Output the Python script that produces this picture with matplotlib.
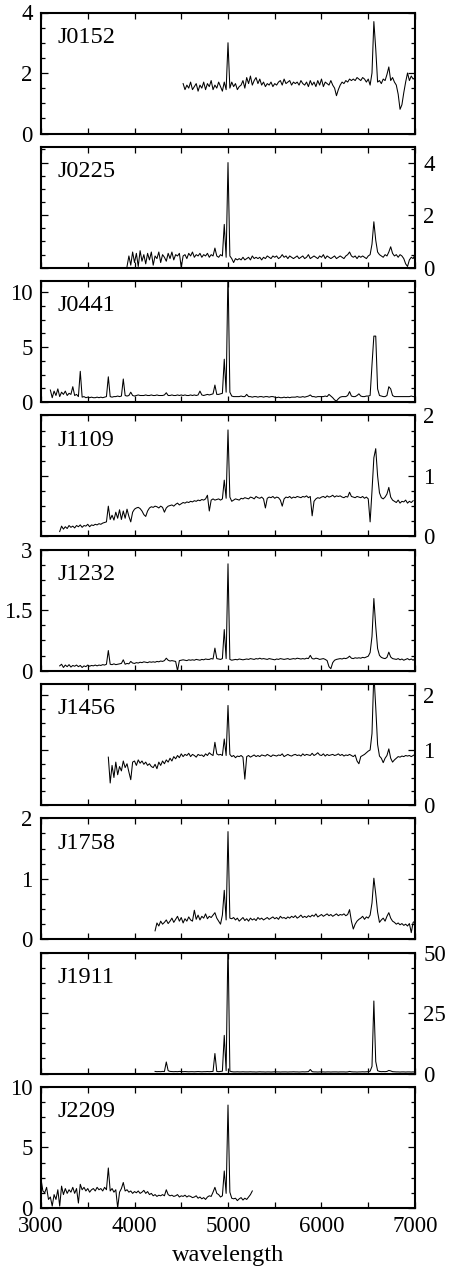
import numpy as np
import matplotlib
matplotlib.use("Agg")
import matplotlib.pyplot as plt
from matplotlib.ticker import MultipleLocator, FuncFormatter

plt.rcParams['font.family'] = ['Liberation Serif', 'DejaVu Serif']

# ---------------- data ----------------
names = ["J0152", "J0225", "J0441", "J1109", "J1232", "J1456", "J1758", "J1911", "J2209"]
start_wave = [4520, 3920, 3100, 3200, 3200, 3720, 4220, 4220, 3000]   # first sample (Angstrom)
wave_step = 20

flux_J0152 = [
    1.65, 1.45, 1.6, 1.5, 1.7, 1.45, 1.55, 1.65, 1.4, 1.6,
    1.5, 1.7, 1.45, 1.65, 1.55, 1.75, 1.45, 1.6, 1.5, 1.7,
    1.55, 1.4, 1.7, 1.45, 3.0, 1.5, 1.7, 1.55, 1.65, 1.45,
    1.55, 1.6, 1.75, 1.5, 1.85, 1.65, 1.9, 1.6, 1.75, 1.85,
    1.65, 1.8, 1.6, 1.7, 1.55, 1.65, 1.6, 1.7, 1.55, 1.65,
    1.6, 1.7, 1.75, 1.6, 1.8, 1.65, 1.7, 1.75, 1.6, 1.7,
    1.65, 1.7, 1.6, 1.75, 1.65, 1.6, 1.7, 1.55, 1.75, 1.6,
    1.7, 1.55, 1.75, 1.6, 1.8, 1.55, 1.7, 1.65, 1.6, 1.75,
    1.6, 1.5, 1.25, 1.45, 1.6, 1.7, 1.65, 1.75, 1.7, 1.8,
    1.75, 1.8, 1.75, 1.85, 1.8, 1.75, 1.85, 1.8, 1.7, 1.8,
    1.6, 2.0, 3.7, 2.8, 1.7, 1.75, 1.65, 1.8, 1.75, 1.95,
    2.2, 1.75, 1.85, 1.7, 1.6, 1.3, 0.8, 0.95, 1.35, 1.7,
    2.0, 1.75, 1.9, 1.8, 1.85]

flux_J0225 = [
    0.05, 0.45, 0.1, 0.6, 0.2, 0.55, 0.05, 0.65, 0.25, 0.5,
    0.15, 0.55, 0.3, 0.6, 0.1, 0.45, 0.35, 0.6, 0.2, 0.5,
    0.4, 0.25, 0.55, 0.35, 0.6, 0.3, 0.5, 0.45, 0.55, 0.02,
    0.45, 0.5, 0.35, 0.55, 0.45, 0.6, 0.4, 0.5, 0.45, 0.55,
    0.4, 0.5, 0.45, 0.55, 0.4, 0.5, 0.45, 0.75, 0.45, 0.4,
    0.5, 0.45, 1.65, 0.4, 4.0, 0.45, 0.35, 0.2, 0.35, 0.3,
    0.35, 0.3, 0.4, 0.3, 0.35, 0.4, 0.3, 0.45, 0.35, 0.4,
    0.35, 0.4, 0.3, 0.4, 0.35, 0.45, 0.4, 0.35, 0.45, 0.4,
    0.45, 0.35, 0.4, 0.5, 0.4, 0.45, 0.35, 0.45, 0.4, 0.35,
    0.4, 0.45, 0.35, 0.4, 0.45, 0.35, 0.4, 0.5, 0.35, 0.4,
    0.45, 0.4, 0.35, 0.45, 0.4, 0.5, 0.35, 0.45, 0.4, 0.35,
    0.4, 0.45, 0.35, 0.4, 0.45, 0.4, 0.35, 0.45, 0.5, 0.6,
    0.45, 0.4, 0.45, 0.35, 0.45, 0.4, 0.45, 0.4, 0.35, 0.45,
    0.5, 0.9, 1.75, 1.05, 0.6, 0.5, 0.45, 0.4, 0.5, 0.45,
    0.6, 0.8, 0.55, 0.45, 0.5, 0.4, 0.5, 0.45, 0.35, 0.15,
    0.05, 0.3, 0.4, 0.35, 0.5]

flux_J0441 = [
    1.1, 0.4, 1.0, 0.6, 1.2, 0.5, 0.9, 0.7, 1.0, 0.6,
    0.8, 0.7, 1.4, 0.6, 0.7, 0.5, 2.8, 0.45, 0.5, 0.4,
    0.45, 0.4, 0.45, 0.4, 0.4, 0.45, 0.4, 0.45, 0.4, 0.45,
    0.5, 2.3, 0.5, 0.45, 0.5, 0.5, 0.55, 0.5, 0.55, 2.1,
    0.6, 0.55, 0.6, 0.9, 0.6, 0.55, 0.6, 0.65, 0.6, 0.6,
    0.6, 0.65, 0.6, 0.6, 0.65, 0.6, 0.6, 0.65, 0.6, 0.6,
    0.6, 0.65, 0.85, 0.6, 0.6, 0.65, 0.6, 0.6, 0.65, 0.6,
    0.65, 0.6, 0.65, 0.6, 0.6, 0.65, 0.6, 0.65, 0.6, 0.65,
    1.0, 0.65, 0.6, 0.65, 0.7, 0.65, 0.7, 0.75, 1.55, 0.7,
    0.7, 0.75, 0.8, 3.9, 0.9, 12.0, 0.9, 0.55, 0.5, 0.5,
    0.5, 0.5, 0.55, 0.5, 0.5, 0.7, 0.5, 0.5, 0.45, 0.5,
    0.5, 0.45, 0.5, 0.5, 0.45, 0.5, 0.5, 0.45, 0.5, 0.5,
    0.45, 0.4, 0.45, 0.4, 0.4, 0.45, 0.4, 0.45, 0.4, 0.45,
    0.45, 0.45, 0.5, 0.45, 0.45, 0.5, 0.45, 0.5, 0.55, 0.65,
    0.5, 0.5, 0.45, 0.5, 0.5, 0.5, 0.5, 0.55, 0.5, 0.7,
    0.55, 0.4, 0.2, 0.1, 0.3, 0.45, 0.5, 0.5, 0.5, 0.6,
    0.95, 0.55, 0.5, 0.5, 0.6, 0.75, 0.55, 0.5, 0.5, 0.55,
    0.55, 0.6, 3.4, 6.0, 6.0, 1.2, 0.6, 0.55, 0.5, 0.5,
    0.6, 1.4, 1.2, 0.6, 0.5, 0.5, 0.5, 0.5, 0.5, 0.5,
    0.5, 0.5, 0.5, 0.55, 0.5, 0.5]

flux_J1109 = [
    0.08, 0.17, 0.12, 0.16, 0.13, 0.18, 0.15, 0.17, 0.14, 0.18,
    0.16, 0.19, 0.15, 0.18, 0.17, 0.2, 0.16, 0.19, 0.18, 0.2,
    0.19, 0.21, 0.2, 0.22, 0.23, 0.24, 0.5, 0.28, 0.35, 0.27,
    0.4, 0.3, 0.44, 0.28, 0.42, 0.3, 0.45, 0.33, 0.24, 0.4,
    0.45, 0.47, 0.48, 0.46, 0.42, 0.36, 0.33, 0.42, 0.47, 0.49,
    0.48, 0.5, 0.49, 0.47, 0.5, 0.48, 0.4, 0.47, 0.5, 0.51,
    0.52, 0.5, 0.53, 0.55, 0.52, 0.54, 0.56, 0.55, 0.57, 0.56,
    0.58, 0.57, 0.59, 0.58, 0.6, 0.59, 0.61, 0.6, 0.62, 0.68,
    0.42, 0.6, 0.62, 0.6, 0.61, 0.62, 0.6, 0.62, 0.93, 0.63,
    1.76, 0.65, 0.58, 0.6, 0.62, 0.61, 0.6, 0.63, 0.62, 0.64,
    0.63, 0.62, 0.65, 0.64, 0.62, 0.66, 0.64, 0.63, 0.65, 0.62,
    0.47, 0.63, 0.65, 0.64, 0.66, 0.63, 0.65, 0.64, 0.6, 0.5,
    0.62, 0.65, 0.64, 0.66, 0.63, 0.65, 0.64, 0.66, 0.65, 0.64,
    0.66, 0.65, 0.67, 0.64, 0.66, 0.34, 0.58, 0.62, 0.64, 0.63,
    0.65, 0.66, 0.64, 0.67, 0.65, 0.66, 0.68, 0.65, 0.67, 0.66,
    0.67, 0.65, 0.64, 0.66, 0.65, 0.73, 0.66, 0.65, 0.64, 0.66,
    0.65, 0.64, 0.66, 0.63, 0.65, 0.62, 0.24, 0.75, 1.3, 1.45,
    1.0, 0.72, 0.64, 0.62, 0.65, 0.7, 0.81, 0.65, 0.6, 0.58,
    0.56, 0.6, 0.55, 0.58, 0.57, 0.6, 0.55, 0.58, 0.56, 0.59]

flux_J1232 = [
    0.12, 0.16, 0.08, 0.14, 0.1, 0.15, 0.09, 0.13, 0.11, 0.14,
    0.1, 0.13, 0.08, 0.12, 0.1, 0.14, 0.11, 0.13, 0.12, 0.14,
    0.12, 0.14, 0.13, 0.15, 0.14, 0.16, 0.5, 0.16, 0.15, 0.17,
    0.15, 0.16, 0.17, 0.18, 0.27, 0.16, 0.18, 0.17, 0.23, 0.19,
    0.18, 0.2, 0.19, 0.21, 0.2, 0.22, 0.21, 0.2, 0.22, 0.21,
    0.22, 0.21, 0.23, 0.22, 0.24, 0.23, 0.25, 0.31, 0.26, 0.24,
    0.25, 0.24, 0.23, 0.0, 0.25, 0.26, 0.27, 0.26, 0.25, 0.27,
    0.26, 0.27, 0.26, 0.28, 0.27, 0.26, 0.28, 0.27, 0.29, 0.28,
    0.28, 0.3, 0.29, 0.56, 0.3, 0.29, 0.28, 0.3, 1.02, 0.3,
    2.65, 0.28, 0.26, 0.27, 0.28, 0.27, 0.29, 0.28, 0.27, 0.28,
    0.29, 0.28, 0.3, 0.29, 0.28, 0.3, 0.29, 0.31, 0.29, 0.3,
    0.29, 0.28, 0.3, 0.29, 0.28, 0.27, 0.29, 0.28, 0.3, 0.29,
    0.28, 0.29, 0.3, 0.28, 0.29, 0.3, 0.29, 0.31, 0.3, 0.29,
    0.3, 0.29, 0.31, 0.3, 0.38, 0.3, 0.29, 0.31, 0.3, 0.28,
    0.29, 0.3, 0.28, 0.25, 0.1, 0.05, 0.2, 0.26, 0.28, 0.29,
    0.3, 0.29, 0.31, 0.3, 0.32, 0.36, 0.31, 0.3, 0.32, 0.31,
    0.32, 0.31, 0.33, 0.32, 0.34, 0.36, 0.45, 0.85, 1.79, 1.1,
    0.55, 0.38, 0.33, 0.31, 0.3, 0.33, 0.46, 0.34, 0.3, 0.29,
    0.28, 0.3, 0.27, 0.29, 0.26, 0.28, 0.3, 0.27, 0.29, 0.26,
    0.3]

flux_J1456 = [
    0.87, 0.4, 0.72, 0.5, 0.78, 0.55, 0.7, 0.62, 0.8, 0.68,
    0.75, 0.6, 0.46, 0.78, 0.8, 0.72, 0.82, 0.76, 0.8, 0.74,
    0.78, 0.72, 0.75, 0.7, 0.68, 0.74, 0.66, 0.78, 0.72, 0.8,
    0.75, 0.82, 0.78, 0.85, 0.8, 0.88, 0.84, 0.9, 0.86, 0.93,
    0.88, 0.92, 0.9, 0.94, 0.88, 0.92, 0.9, 0.87, 0.92, 0.9,
    0.91, 0.88, 0.93, 0.9, 0.95, 0.92, 0.9, 1.14, 0.93, 0.91,
    0.92, 0.9, 1.2, 0.9, 1.81, 0.92, 0.88, 0.9, 0.86, 0.89,
    0.88, 0.9, 0.87, 0.47, 0.88, 0.9, 0.87, 0.89, 0.91, 0.88,
    0.9, 0.88, 0.91, 0.9, 0.89, 0.92, 0.9, 0.88, 0.91, 0.9,
    0.89, 0.91, 0.9, 0.93, 0.88, 0.9, 0.92, 0.9, 0.89, 0.91,
    0.92, 0.9, 0.91, 0.89, 0.93, 0.9, 0.92, 0.91, 0.9, 0.94,
    0.9, 0.92, 0.95, 0.91, 0.9, 0.93, 0.89, 0.92, 0.9, 0.91,
    0.92, 0.9, 0.91, 0.93, 0.9, 0.92, 0.89, 0.91, 0.9, 0.92,
    0.9, 0.88, 0.91, 0.8, 0.75, 0.88, 0.9, 0.92, 0.95, 0.98,
    1.0, 1.3, 2.4, 1.78, 1.1, 0.89, 0.85, 0.77, 0.85, 0.9,
    1.02, 0.85, 0.78, 0.82, 0.85, 0.88, 0.87, 0.89, 0.88, 0.9,
    0.89, 0.9, 0.88, 0.9, 0.92]

flux_J1758 = [
    0.14, 0.27, 0.22, 0.3, 0.25, 0.28, 0.32, 0.26, 0.3, 0.35,
    0.28, 0.33, 0.38, 0.3, 0.36, 0.27, 0.34, 0.3, 0.37, 0.32,
    0.3, 0.48, 0.33, 0.4, 0.32, 0.38, 0.35, 0.42, 0.34, 0.38,
    0.36, 0.4, 0.44, 0.35, 0.3, 0.25, 0.4, 0.81, 0.32, 1.78,
    0.35, 0.34, 0.36, 0.32, 0.35, 0.3, 0.33, 0.36, 0.31, 0.34,
    0.3, 0.35, 0.32, 0.34, 0.31, 0.36, 0.33, 0.35, 0.32, 0.34,
    0.36, 0.33, 0.35, 0.37, 0.34, 0.36, 0.33, 0.38, 0.35, 0.36,
    0.34, 0.37, 0.35, 0.38, 0.36, 0.39, 0.35, 0.37, 0.4, 0.36,
    0.38, 0.36, 0.39, 0.37, 0.4, 0.38, 0.42, 0.37, 0.39, 0.41,
    0.38, 0.4, 0.42, 0.39, 0.41, 0.38, 0.4, 0.42, 0.39, 0.41,
    0.4, 0.42, 0.39, 0.41, 0.49, 0.3, 0.17, 0.25, 0.3, 0.33,
    0.35, 0.38, 0.33, 0.37, 0.35, 0.4, 0.6, 1.01, 0.75, 0.45,
    0.28, 0.32, 0.35, 0.3, 0.38, 0.44, 0.35, 0.3, 0.28, 0.25,
    0.27, 0.24, 0.26, 0.23, 0.25, 0.22, 0.26, 0.11, 0.28, 0.3]

flux_J1911 = [
    0.9, 0.8, 0.85, 0.8, 0.9, 0.85, 4.8, 1.2, 0.9, 0.85,
    0.8, 0.85, 0.8, 0.9, 0.85, 0.8, 0.85, 0.8, 0.75, 0.8,
    0.8, 0.75, 0.8, 0.85, 0.8, 0.75, 0.8, 0.8, 0.85, 0.8,
    0.85, 0.9, 8.3, 0.9, 0.8, 0.9, 1.0, 15.8, 1.2, 55.0,
    1.0, 0.8, 0.7, 0.7, 0.75, 0.7, 0.7, 0.75, 0.7, 0.7,
    0.7, 0.75, 0.7, 0.7, 0.65, 0.7, 0.75, 0.7, 0.7, 0.65,
    0.7, 0.7, 0.65, 0.7, 0.75, 0.7, 0.7, 0.65, 0.7, 0.7,
    0.7, 0.65, 0.7, 0.7, 0.75, 0.7, 0.7, 0.65, 0.7, 0.75,
    0.7, 0.75, 0.8, 1.7, 0.8, 0.7, 0.7, 0.65, 0.7, 0.7,
    0.7, 0.65, 0.7, 0.7, 0.65, 0.7, 0.7, 0.7, 0.65, 0.7,
    0.7, 0.7, 0.65, 0.7, 0.9, 0.75, 0.7, 0.7, 0.65, 0.7,
    0.7, 0.75, 0.7, 0.75, 0.8, 1.0, 3.0, 30.0, 5.0, 1.2,
    0.9, 0.8, 0.85, 0.8, 0.9, 1.3, 1.1, 0.8, 0.75, 0.7,
    0.7, 0.65, 0.7, 0.7, 0.65, 0.7, 0.7, 0.65, 0.7, 0.6]

flux_J2209 = [
    2.4, 1.4, 1.25, 1.7, 0.7, 0.9, 0.15, 1.1, 0.7, 1.5,
    0.15, 1.8, 1.1, 1.6, 1.2, 1.5, 1.3, 1.7, 1.2, 1.6,
    0.4, 1.95, 1.5, 1.7, 1.4, 1.6, 1.3, 1.5, 1.6, 1.4,
    1.7, 1.5, 1.6, 1.4, 1.7, 1.5, 3.3, 1.4, 1.6, 1.3,
    1.5, 0.0, 1.3, 1.6, 2.1, 1.4, 1.5, 1.3, 1.4, 1.2,
    1.35, 1.25, 1.4, 1.2, 1.3, 1.45, 1.2, 1.35, 1.1, 1.2,
    1.0, 1.1, 0.95, 1.05, 1.0, 1.1, 1.0, 1.5, 1.1, 1.0,
    1.05, 0.95, 1.0, 1.1, 0.9, 1.0, 0.95, 1.05, 0.9, 1.0,
    0.95, 0.85, 0.9, 1.0, 0.8, 0.9, 0.75, 0.85, 0.7, 0.9,
    1.0, 0.95, 1.3, 1.7, 1.2, 1.1, 0.9, 1.0, 3.05, 1.2,
    8.5, 1.3, 0.8, 0.75, 0.8, 0.6, 0.75, 0.85, 0.65, 0.8,
    0.7, 0.9, 1.1, 1.4]

fluxes = [flux_J0152, flux_J0225, flux_J0441, flux_J1109, flux_J1232,
          flux_J1456, flux_J1758, flux_J1911, flux_J2209]

y_max = [4, 4.6, 11, 2, 3, 2.2, 2, 50, 10]
y_major = [2, 2, 5, 1, 1.5, 1, 1, 25, 5]
y_label_side = ["left", "right", "left", "right", "left", "right", "left", "right", "left"]
x_ticks = [3000, 4000, 5000, 6000, 7000]

# ---------------- layout ----------------
W, H = 452, 1271
fig = plt.figure(figsize=(W / 100, H / 100), dpi=100)
left_px, right_px = 41, 415
top0, pitch, hgt = 12.5, 134.3, 121

fmt = FuncFormatter(lambda v, p: "%g" % v)

for i, name in enumerate(names):
    top = top0 + i * pitch
    ax = fig.add_axes([left_px / W, 1 - (top + hgt) / H,
                       (right_px - left_px) / W, hgt / H])
    flux = np.asarray(fluxes[i], dtype=float)
    wave = start_wave[i] + wave_step * np.arange(len(flux))
    ax.plot(wave, flux, color="black", lw=0.75)
    ax.set_xlim(x_ticks[0], x_ticks[-1])
    ax.set_ylim(0, y_max[i])
    ax.set_xticks(x_ticks)
    ax.xaxis.set_minor_locator(MultipleLocator(500))
    ax.yaxis.set_major_locator(MultipleLocator(y_major[i]))
    ax.yaxis.set_minor_locator(MultipleLocator(y_major[i] / 4))
    ax.yaxis.set_major_formatter(fmt)
    ax.tick_params(which="both", direction="in", top=True, right=True,
                   width=0.9, labelsize=16.5, pad=6)
    ax.tick_params(axis="y", which="major", length=5)
    ax.tick_params(axis="y", which="minor", length=2.8)
    ax.tick_params(axis="x", which="both", length=4)
    side = y_label_side[i]
    ax.tick_params(axis="y", labelleft=(side == "left"), labelright=(side == "right"))
    if i < len(names) - 1:
        ax.tick_params(axis="x", labelbottom=False)
    for sp in ax.spines.values():
        sp.set_linewidth(1.5)
    ax.text(0.043, 0.75, name, transform=ax.transAxes, fontsize=17.5,
            ha="left", va="baseline")

fig.text((left_px + right_px) / 2 / W, 1 - 1256 / H, "wavelength",
         ha="center", va="center", fontsize=17.5)

fig.savefig("out.png", dpi=100)
